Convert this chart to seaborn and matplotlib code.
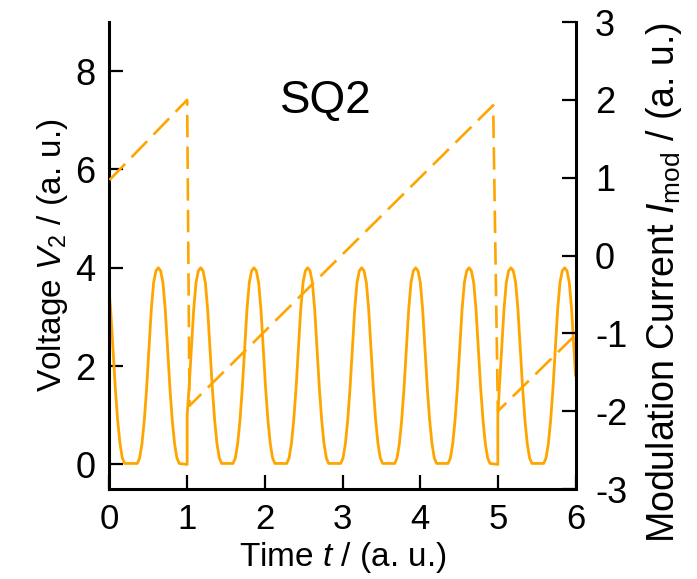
import matplotlib
matplotlib.use("Agg")
import matplotlib.pyplot as plt
import seaborn as sns
import pandas as pd

# Output voltage V2 of the SQUID versus time (left axis)
t_volt = [
    0.000, 0.015, 0.045, 0.075, 0.105, 0.135, 0.165, 0.195,
    0.358, 0.388, 0.418, 0.448, 0.478, 0.508, 0.538, 0.568, 0.598, 0.628,
    0.658, 0.688, 0.718, 0.748, 0.778, 0.808, 0.838, 0.868, 0.898,
    1.000, 1.000,
    1.024, 1.054, 1.084, 1.114, 1.144, 1.174,
    1.204, 1.234, 1.264, 1.294, 1.324, 1.354, 1.384, 1.414, 1.444,
    1.590, 1.620, 1.650, 1.680, 1.710, 1.740, 1.770, 1.800, 1.830, 1.860,
    1.890, 1.920, 1.950, 1.980, 2.010, 2.040, 2.070, 2.100, 2.130,
    2.282, 2.312, 2.342, 2.372, 2.402, 2.432, 2.462, 2.492, 2.522, 2.552,
    2.582, 2.612, 2.642, 2.672, 2.702, 2.732, 2.762, 2.792, 2.822,
    2.977, 3.007, 3.037, 3.067, 3.097, 3.127, 3.157, 3.187, 3.217, 3.247,
    3.277, 3.307, 3.337, 3.367, 3.397, 3.427, 3.457, 3.487, 3.517,
    3.672, 3.702, 3.732, 3.762, 3.792, 3.822, 3.852, 3.882, 3.912, 3.942,
    3.972, 4.002, 4.032, 4.062, 4.092, 4.122, 4.152, 4.182, 4.212,
    4.359, 4.389, 4.419, 4.449, 4.479, 4.509, 4.539, 4.569, 4.599, 4.629,
    4.659, 4.689, 4.719, 4.749, 4.779, 4.809, 4.839, 4.869, 4.899,
    5.000, 5.000,
    5.019, 5.049, 5.079, 5.109, 5.139, 5.169,
    5.199, 5.229, 5.259, 5.289, 5.319, 5.349, 5.379, 5.409, 5.439,
    5.590, 5.620, 5.650, 5.680, 5.710, 5.740, 5.770, 5.800, 5.830, 5.860,
    5.890, 5.920, 5.950, 5.980, 6.000,
]
v_volt = [
    3.42, 3.15, 2.35, 1.55, 0.90, 0.42, 0.13, 0.02,
    0.02, 0.13, 0.42, 0.90, 1.55, 2.35, 3.15, 3.70, 3.94, 4.00,
    3.94, 3.70, 3.15, 2.35, 1.55, 0.90, 0.42, 0.13, 0.02,
    0.00, 1.00,
    1.55, 2.35, 3.15, 3.70, 3.94, 4.00,
    3.94, 3.70, 3.15, 2.35, 1.55, 0.90, 0.42, 0.13, 0.02,
    0.02, 0.13, 0.42, 0.90, 1.55, 2.35, 3.15, 3.70, 3.94, 4.00,
    3.94, 3.70, 3.15, 2.35, 1.55, 0.90, 0.42, 0.13, 0.02,
    0.02, 0.13, 0.42, 0.90, 1.55, 2.35, 3.15, 3.70, 3.94, 4.00,
    3.94, 3.70, 3.15, 2.35, 1.55, 0.90, 0.42, 0.13, 0.02,
    0.02, 0.13, 0.42, 0.90, 1.55, 2.35, 3.15, 3.70, 3.94, 4.00,
    3.94, 3.70, 3.15, 2.35, 1.55, 0.90, 0.42, 0.13, 0.02,
    0.02, 0.13, 0.42, 0.90, 1.55, 2.35, 3.15, 3.70, 3.94, 4.00,
    3.94, 3.70, 3.15, 2.35, 1.55, 0.90, 0.42, 0.13, 0.02,
    0.02, 0.13, 0.42, 0.90, 1.55, 2.35, 3.15, 3.70, 3.94, 4.00,
    3.94, 3.70, 3.15, 2.35, 1.55, 0.90, 0.42, 0.13, 0.02,
    0.00, 1.00,
    1.55, 2.35, 3.15, 3.70, 3.94, 4.00,
    3.94, 3.70, 3.15, 2.35, 1.55, 0.90, 0.42, 0.13, 0.02,
    0.02, 0.13, 0.42, 0.90, 1.55, 2.35, 3.15, 3.70, 3.94, 4.00,
    3.94, 3.70, 3.15, 2.35, 1.80,
]

# Sawtooth modulation current I_mod (right axis)
t_mod = [0.00, 1.00, 1.03, 4.94, 5.00, 6.00]
i_mod = [0.97, 2.00, -1.93, 1.93, -2.00, -1.02]

x_ticks = [0, 1, 2, 3, 4, 5, 6]
v_ticks = [0, 2, 4, 6, 8]
i_ticks = [-3, -2, -1, 0, 1, 2, 3]

sns.set_theme(style="ticks")
plt.rcParams["font.family"] = ["Liberation Sans", "DejaVu Sans"]
plt.rcParams["mathtext.fontset"] = "custom"
plt.rcParams["mathtext.rm"] = "Liberation Sans"
plt.rcParams["mathtext.it"] = "Liberation Sans:italic"
for key in ("text.color", "axes.labelcolor", "xtick.color", "ytick.color"):
    plt.rcParams[key] = "black"

line_color = "orange"

fig = plt.figure(figsize=(6.97, 5.79), dpi=100)
ax = fig.add_axes([0.1571, 0.1554, 0.6686, 0.8066])

df_v = pd.DataFrame({"t": t_volt, "V": v_volt})
sns.lineplot(data=df_v, x="t", y="V", ax=ax, estimator=None, sort=False,
             color=line_color, linewidth=2.0)

ax2 = ax.twinx()
df_i = pd.DataFrame({"t": t_mod, "I": i_mod})
sns.lineplot(data=df_i, x="t", y="I", ax=ax2, estimator=None, sort=False,
             color=line_color, linewidth=1.9, linestyle=(0, (8.5, 3.5)))

ax.set_xlim(0, 6)
ax.set_ylim(-0.5, 9)
ax2.set_ylim(-3, 3)
ax.set_xticks(x_ticks)
ax.set_yticks(v_ticks)
ax2.set_yticks(i_ticks)
ax2.set_yticklabels([str(v) for v in i_ticks])

tick_kw = dict(direction="in", length=10, width=1.6)
ax.tick_params(axis="y", right=False, labelsize=26, pad=10, **tick_kw)
ax.tick_params(axis="x", top=False, labelsize=25, pad=10, **tick_kw)
ax2.tick_params(axis="y", labelsize=26, pad=14, **tick_kw)

for side in ("top", "right"):
    ax.spines[side].set_visible(False)
for side in ("top", "left", "bottom"):
    ax2.spines[side].set_visible(False)
for sp in (ax.spines["left"], ax.spines["bottom"], ax2.spines["right"]):
    sp.set_linewidth(2.2)
    sp.set_color("black")

ax.set_xlabel("Time $t$ / (a. u.)", fontsize=24, labelpad=3)
ax.set_ylabel("Voltage $V_2$ / (a. u.)", fontsize=24, labelpad=4)
ax2.set_ylabel("Modulation Current $I_\\mathrm{mod}$ / (a. u.)", fontsize=27)
ax2.yaxis.set_label_coords(1.146, 0.441)

ax.text(2.78, 7.4, "SQ2", ha="center", va="center", fontsize=33)

fig.savefig("out.png", dpi=100)
